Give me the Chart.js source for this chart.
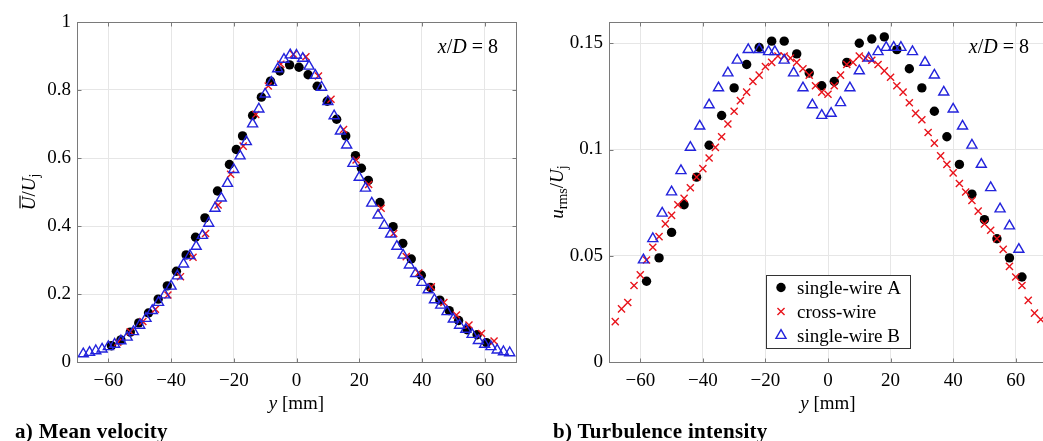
<!DOCTYPE html>
<html>
<head>
<meta charset="utf-8">
<script src="https://cdn.jsdelivr.net/npm/chart.js@4.4.1/dist/chart.umd.min.js"></script>
<style>
  html, body { margin: 0; padding: 0; background: #fff; width: 1043px; height: 441px; overflow: hidden; }
  canvas { position: absolute; top: 0; }
  #meanChart { left: 0; }
  #turbChart { left: 530px; }
  .caption { position: absolute; top: 421px; font: bold 21px "Liberation Serif", serif; line-height: 21px; color: #000; white-space: nowrap; letter-spacing: 0.3px; }
</style>
</head>
<body>
<canvas id="meanChart" width="530" height="441"></canvas>
<canvas id="turbChart" width="530" height="441"></canvas>
<div class="caption" style="left:15px">a) Mean velocity</div>
<div class="caption" style="left:553px">b) Turbulence intensity</div>

<script>
// ---- axes ----
const xTicks    = [-60, -40, -20, 0, 20, 40, 60];
const meanTicks = [0, 0.2, 0.4, 0.6, 0.8, 1];
const turbTicks = [0, 0.05, 0.1, 0.15];
const seriesNames = ["single-wire A", "cross-wire", "single-wire B"];

// ---- a) mean velocity, y [mm] vs U/Uj ----
const meanPosA = [-59, -56, -53, -50.3, -47.2, -44.1, -41.2, -38.3, -35.2, -32.2, -29.2, -25.2, -21.4, -19.2, -17.2, -14, -11.2, -8.3, -5.3, -2.2,
                  0.8, 3.7, 6.6, 9.8, 12.8, 15.7, 18.8, 20.7, 22.9, 26.6, 30.8, 33.9, 36.6, 39.8, 42.7, 45.7, 48.7, 51.7, 54.4, 57.6, 60.6];
const meanValA = [0.048, 0.065, 0.088, 0.115, 0.144, 0.185, 0.224, 0.267, 0.315, 0.367, 0.424, 0.503, 0.581, 0.625, 0.665, 0.725, 0.779, 0.826, 0.856, 0.874,
                  0.867, 0.845, 0.811, 0.767, 0.714, 0.665, 0.607, 0.570, 0.534, 0.469, 0.398, 0.349, 0.303, 0.255, 0.219, 0.182, 0.151, 0.122, 0.095, 0.080, 0.057];

const meanPosX = [-57, -53, -49, -45, -41, -37, -33, -29, -25, -21, -17, -13, -9, -5, -1, 3, 7, 11, 15, 19, 23, 27, 31, 35, 39, 43, 47, 51, 55, 59, 63];
const meanValX = [0.058, 0.089, 0.119, 0.155, 0.197, 0.251, 0.308, 0.378, 0.462, 0.552, 0.635, 0.728, 0.812, 0.876, 0.905, 0.898,
                  0.841, 0.773, 0.684, 0.594, 0.522, 0.452, 0.378, 0.310, 0.262, 0.221, 0.175, 0.138, 0.109, 0.084, 0.062];

const meanPosB = [-68, -66, -64, -62, -60, -58, -56, -54, -52, -50, -48, -46, -44, -42, -40, -38, -36, -34, -32, -30, -28, -26, -24, -22, -20,
                  -18, -16, -14, -12, -10, -8, -6, -4, -2, 0, 2, 4, 6, 8, 10, 12, 14, 16, 18, 20, 22, 24, 26, 28, 30, 32, 34,
                  36, 38, 40, 42, 44, 46, 48, 50, 52, 54, 56, 58, 60, 62, 64, 66, 68];
const meanValB = [0.024, 0.028, 0.033, 0.038, 0.045, 0.052, 0.062, 0.073, 0.089, 0.108, 0.128, 0.151, 0.175, 0.197, 0.223, 0.253, 0.288, 0.313, 0.340, 0.372,
                  0.408, 0.452, 0.482, 0.525, 0.566, 0.606, 0.648, 0.700, 0.744, 0.788, 0.822, 0.862, 0.890, 0.903, 0.902, 0.893, 0.870, 0.843,
                  0.808, 0.766, 0.724, 0.679, 0.638, 0.584, 0.543, 0.511, 0.467, 0.432, 0.402, 0.376, 0.340, 0.314, 0.285, 0.260, 0.234, 0.212,
                  0.183, 0.167, 0.148, 0.126, 0.108, 0.096, 0.081, 0.063, 0.052, 0.045, 0.035, 0.030, 0.027];

// ---- b) turbulence intensity, y [mm] vs urms/Uj ----
const turbPosA = [-58, -54, -50, -46, -42, -38, -34, -30, -26, -22, -18, -14, -10, -6, -2, 2, 6, 10, 14, 18, 22, 26, 30, 34, 38, 42, 46, 50, 54, 58, 62];
const turbValA = [0.038, 0.049, 0.061, 0.074, 0.087, 0.102, 0.116, 0.129, 0.140, 0.148, 0.151, 0.151, 0.145, 0.136, 0.130, 0.132,
                  0.141, 0.150, 0.152, 0.153, 0.147, 0.138, 0.129, 0.118, 0.106, 0.093, 0.079, 0.067, 0.058, 0.049, 0.040];

const turbPosX = [-68, -66, -64, -62, -60, -58, -56, -54, -52, -50, -48, -46, -44, -42, -40, -38, -36, -34, -32, -30, -28, -26, -24, -22, -20,
                  -18, -16, -14, -12, -10, -8, -6, -4, -2, 0, 2, 4, 6, 8, 10, 12, 14, 16, 18, 20, 22, 24, 26, 28, 30, 32, 34,
                  36, 38, 40, 42, 44, 46, 48, 50, 52, 54, 56, 58, 60, 62, 64, 66, 68];
const turbValX = [0.019, 0.025, 0.028, 0.036, 0.041, 0.048, 0.054, 0.059, 0.065, 0.069, 0.074, 0.077, 0.082, 0.087, 0.091, 0.096, 0.101, 0.106, 0.112, 0.118,
                  0.123, 0.127, 0.132, 0.135, 0.139, 0.141, 0.144, 0.144, 0.143, 0.141, 0.138, 0.135, 0.130, 0.127, 0.126, 0.130, 0.135, 0.140,
                  0.141, 0.144, 0.143, 0.142, 0.140, 0.137, 0.134, 0.130, 0.127, 0.122, 0.117, 0.114, 0.108, 0.103, 0.097, 0.093, 0.089, 0.084,
                  0.080, 0.076, 0.071, 0.065, 0.062, 0.058, 0.053, 0.045, 0.040, 0.036, 0.029, 0.023, 0.020];

const turbPosB = [-59, -56, -53, -50, -47, -44, -41, -38, -35, -32, -29, -25.5, -22, -19, -17, -14, -11, -8, -5, -2,
                  1, 4, 7, 10, 13, 16, 18.6, 21, 23.3, 27, 31, 34, 37, 40, 43, 46, 49, 52, 55, 58, 61];
const turbValB = [0.048, 0.058, 0.070, 0.080, 0.090, 0.101, 0.111, 0.121, 0.129, 0.136, 0.142, 0.147, 0.147, 0.146, 0.146, 0.142, 0.136, 0.129, 0.121, 0.116,
                  0.117, 0.122, 0.129, 0.137, 0.143, 0.146, 0.148, 0.148, 0.148, 0.146, 0.141, 0.135, 0.127, 0.119, 0.111, 0.102, 0.093, 0.082, 0.072, 0.064, 0.053];

// ---- styling ----
const SERIF = '"Liberation Serif", "DejaVu Serif", serif';
const RED   = "#e8141c";
const BLUE  = "#2323dc";

const markerA = { pointStyle: "circle",   pointRadius: 4.7, pointBackgroundColor: "#000", pointBorderColor: "#000", pointBorderWidth: 0,   order: 3 };
const markerX = { pointStyle: "crossRot", pointRadius: 5,   pointBackgroundColor: RED,    pointBorderColor: RED,    pointBorderWidth: 1.4, order: 2 };
const markerB = { pointStyle: "triangle", pointRadius: 5.8, pointBackgroundColor: "rgba(0,0,0,0)", pointBorderColor: BLUE, pointBorderWidth: 1.4, order: 1 };
const markers = [markerA, markerX, markerB];

const pts = (xs, ys) => xs.map((x, i) => ({ x, y: ys[i] }));
const fmt = v => (v < 0 ? "\u2212" + Math.abs(v) : String(v));

// rich text: list of [text, style, size, dy, overline]
function drawRich(ctx, segs, x, y, align) {
  let w = 0;
  segs.forEach(s => {
    ctx.font = `${s[1]} ${s[2]}px ${SERIF}`;
    s.w = ctx.measureText(s[0]).width;
    w += s.w;
  });
  let cx = align === "center" ? x - w / 2 : align === "right" ? x - w : x;
  ctx.fillStyle = "#000";
  ctx.textAlign = "left";
  ctx.textBaseline = "alphabetic";
  segs.forEach(s => {
    ctx.font = `${s[1]} ${s[2]}px ${SERIF}`;
    ctx.fillText(s[0], cx, y + (s[3] || 0));
    if (s[4]) ctx.fillRect(cx + 2, y - s[2] * 0.82, s.w - 1, 1.2);
    cx += s.w;
  });
}

const xTitle = [["y", "italic", 19], [" [mm]", "normal", 19]];
const tagText = [["x", "italic", 20], ["/", "normal", 20], ["D", "italic", 20], [" = 8", "normal", 20]];

const decoPlugin = {
  id: "deco",
  afterDraw(chart, args, o) {
    const { ctx, chartArea: a, scales } = chart;
    ctx.save();

    // box
    ctx.strokeStyle = "#7a7a7a";
    ctx.lineWidth = 1;
    const L = Math.round(a.left) + 0.5, T = Math.round(a.top) + 0.5;
    const R = Math.round(a.right) + 0.5, B = Math.round(a.bottom) + 0.5;
    ctx.strokeRect(L, T, R - L, B - T);

    // inward ticks
    ctx.beginPath();
    xTicks.forEach(v => {
      const p = Math.round(scales.x.getPixelForValue(v)) + 0.5;
      ctx.moveTo(p, B); ctx.lineTo(p, B - 4);
      ctx.moveTo(p, T); ctx.lineTo(p, T + 4);
    });
    o.yTicks.forEach(v => {
      const p = Math.round(scales.y.getPixelForValue(v)) + 0.5;
      ctx.moveTo(L, p); ctx.lineTo(L + 4, p);
      ctx.moveTo(R, p); ctx.lineTo(R - 4, p);
    });
    ctx.stroke();

    // axis titles
    drawRich(ctx, xTitle, (a.left + a.right) / 2, a.bottom + 47, "center");
    ctx.save();
    ctx.translate(o.yTitleX, (a.top + a.bottom) / 2);
    ctx.rotate(-Math.PI / 2);
    drawRich(ctx, o.yTitle, 0, 0, "center");
    ctx.restore();

    // x/D tag
    drawRich(ctx, tagText, a.right - 18, a.top + 31, "right");

    // legend
    if (o.legend) {
      const lx = a.left + 157, ly = a.top + 253, lw = 144, lh = 73;
      ctx.fillStyle = "#fff";
      ctx.fillRect(lx, ly, lw, lh);
      ctx.strokeStyle = "#333";
      ctx.strokeRect(Math.round(lx) + 0.5, Math.round(ly) + 0.5, lw, lh);
      seriesNames.forEach((name, i) => {
        const m = markers[i];
        const cy = ly + 12.5 + 24 * i;
        ctx.fillStyle = m.pointBackgroundColor;
        ctx.strokeStyle = m.pointBorderColor;
        ctx.lineWidth = m.pointBorderWidth || 1;
        Chart.helpers.drawPoint(ctx, { pointStyle: m.pointStyle, radius: m.pointRadius, rotation: 0, borderWidth: m.pointBorderWidth }, lx + 15, cy);
        ctx.font = `19px ${SERIF}`;
        ctx.fillStyle = "#000";
        ctx.textAlign = "left";
        ctx.textBaseline = "alphabetic";
        ctx.fillText(name, lx + 31, cy + 6);
      });
    }
    ctx.restore();
  }
};

function makeChart(id, sets, yMax, yTicks, yAxisWidth, padRight, deco) {
  return new Chart(document.getElementById(id), {
    type: "scatter",
    data: {
      datasets: sets.map((d, i) => ({ label: seriesNames[i], data: d, ...markers[i] }))
    },
    options: {
      responsive: false,
      animation: false,
      events: [],
      layout: { padding: { left: 0, top: 22, right: padRight, bottom: 0 } },
      plugins: { legend: { display: false }, tooltip: { enabled: false }, deco },
      scales: {
        x: {
          type: "linear", min: -70, max: 70,
          afterBuildTicks: s => { s.ticks = xTicks.map(v => ({ value: v })); },
          afterFit: s => { s.height = 79; },
          grid: { color: "#e6e6e6", drawTicks: false },
          border: { display: false },
          ticks: { padding: 8, color: "#000", font: { family: SERIF, size: 19 }, callback: fmt, maxRotation: 0 }
        },
        y: {
          type: "linear", min: 0, max: yMax,
          afterBuildTicks: s => { s.ticks = yTicks.map(v => ({ value: v })); },
          afterFit: s => { s.width = yAxisWidth; },
          grid: { color: "#e6e6e6", drawTicks: false },
          border: { display: false },
          ticks: { padding: 6, color: "#000", font: { family: SERIF, size: 19 }, callback: fmt }
        }
      }
    },
    plugins: [decoPlugin]
  });
}

makeChart("meanChart",
  [pts(meanPosA, meanValA), pts(meanPosX, meanValX), pts(meanPosB, meanValB)],
  1, meanTicks, 77, 14,
  { yTicks: meanTicks, yTitleX: 35,
    yTitle: [["U", "italic", 19, 0, true], ["/", "normal", 19], ["U", "italic", 19], ["j", "normal", 14, 4]] });

makeChart("turbChart",
  [pts(turbPosA, turbValA), pts(turbPosX, turbValX), pts(turbPosB, turbValB)],
  0.16, turbTicks, 79, 13,
  { yTicks: turbTicks, yTitleX: 33, legend: true,
    yTitle: [["u", "italic", 19], ["rms", "normal", 14, 4], ["/", "normal", 19], ["U", "italic", 19], ["j", "normal", 14, 4]] });
</script>
</body>
</html>
